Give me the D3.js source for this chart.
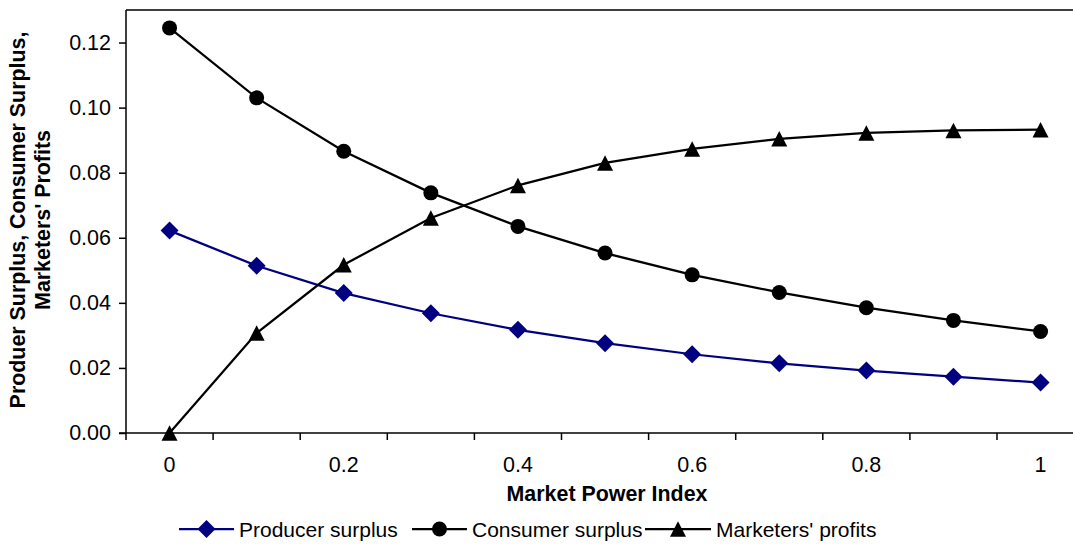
<!DOCTYPE html>
<html>
<head>
<meta charset="utf-8">
<script src="https://cdn.jsdelivr.net/npm/d3@7"></script>
<style>
  html, body { margin: 0; padding: 0; background: #fff; }
  svg { display: block; font-family: "Liberation Sans", Arial, sans-serif; }
</style>
</head>
<body>
<svg id="chart" width="1073" height="544"></svg>
<script>
// ---- data ----
const categories = [0, 0.1, 0.2, 0.3, 0.4, 0.5, 0.6, 0.7, 0.8, 0.9, 1];
const xTickLabels = ["0", "", "0.2", "", "0.4", "", "0.6", "", "0.8", "", "1"];
const producerSurplus = [0.0622, 0.0514, 0.0430, 0.0368, 0.0317, 0.0276, 0.0242, 0.0214, 0.0192, 0.0173, 0.0155];
const consumerSurplus = [0.1245, 0.1030, 0.0866, 0.0738, 0.0635, 0.0553, 0.0486, 0.0432, 0.0385, 0.0346, 0.0312];
const marketersProfits = [0.0000, 0.0307, 0.0517, 0.0661, 0.0761, 0.0830, 0.0873, 0.0904, 0.0922, 0.0930, 0.0932];
const yTicks = [0, 0.02, 0.04, 0.06, 0.08, 0.10, 0.12];
const seriesNames = ["Producer surplus", "Consumer surplus", "Marketers' profits"];
const xTitle = "Market Power Index";
const yTitleLines = ["Produer Surplus, Consumer Surplus,", "Marketers' Profits"];

(function () {
// ---- layout ----
const svg = d3.select("#chart");
const pLeft = 126, pTop = 10, pBottom = 433;
const band = 87.1;
const pRight = pLeft + band * categories.length;

const x = d3.scaleBand().domain(categories).range([pLeft, pRight]).paddingInner(0).paddingOuter(0);
const y = d3.scaleLinear().domain([0, 0.13]).range([pBottom, pTop]);
const cx = d => x(d) + x.bandwidth() / 2;

const series = [
  { name: seriesNames[0], values: producerSurplus, color: "#000080", marker: "diamond" },
  { name: seriesNames[1], values: consumerSurplus, color: "#000000", marker: "circle" },
  { name: seriesNames[2], values: marketersProfits, color: "#000000", marker: "triangle" }
];

// plot area frame (top and right)
svg.append("path")
  .attr("d", `M${pLeft},${pTop}H${pRight}V${pBottom}`)
  .attr("fill", "none").attr("stroke", "#000").attr("stroke-width", 1.5);

// y axis
const yAxis = d3.axisLeft(y).tickValues(yTicks).tickFormat(d3.format(".2f")).tickSize(7).tickPadding(8);
const gy = svg.append("g").attr("transform", `translate(${pLeft},0)`).call(yAxis);
gy.select(".domain").attr("stroke-width", 1.5).attr("d", `M0,${pTop}V${pBottom}`);
gy.selectAll(".tick line").attr("stroke-width", 1.5);
gy.selectAll(".tick text").attr("font-size", 21.5).attr("fill", "#000").attr("font-family", "Liberation Sans, Arial, sans-serif");

// x axis: ticks at category boundaries, labels at centres
const gx = svg.append("g");
gx.append("line").attr("x1", pLeft - 7).attr("x2", pRight).attr("y1", pBottom).attr("y2", pBottom)
  .attr("stroke", "#000").attr("stroke-width", 1.5);
const boundaries = categories.map(c => x(c)).concat([pRight]);
gx.selectAll("line.xt").data(boundaries).join("line").attr("class", "xt")
  .attr("x1", d => d).attr("x2", d => d).attr("y1", pBottom).attr("y2", pBottom + 7)
  .attr("stroke", "#000").attr("stroke-width", 1.5);
gx.selectAll("text.xl").data(categories).join("text").attr("class", "xl")
  .attr("x", d => cx(d)).attr("y", 472)
  .attr("text-anchor", "middle").attr("font-size", 21.5).attr("fill", "#000")
  .text((d, i) => xTickLabels[i]);

// axis titles
svg.append("text").attr("x", 607).attr("y", 501).attr("text-anchor", "middle")
  .attr("font-size", 21.4).attr("font-weight", "bold").text(xTitle);
const yt = svg.append("text").attr("transform", "translate(0,220) rotate(-90)")
  .attr("text-anchor", "middle").attr("font-size", 21.4).attr("font-weight", "bold");
yt.selectAll("tspan").data(yTitleLines).join("tspan")
  .attr("x", 0).attr("y", (d, i) => 25 + i * 25).text(d => d);

// markers
function drawMarker(g, type, px, py, color) {
  if (type === "circle") {
    g.append("circle").attr("cx", px).attr("cy", py).attr("r", 7.5).attr("fill", color);
  } else if (type === "diamond") {
    const s = 9;
    g.append("path").attr("d", `M${px},${py - s}L${px + s},${py}L${px},${py + s}L${px - s},${py}Z`).attr("fill", color);
  } else {
    const h = 15.5, w = 16;
    g.append("path").attr("d", `M${px},${py - h / 2}L${px + w / 2},${py + h / 2}L${px - w / 2},${py + h / 2}Z`).attr("fill", color);
  }
}

const line = d3.line().x((d, i) => cx(categories[i])).y(d => y(d));
series.forEach(s => {
  const g = svg.append("g");
  g.append("path").datum(s.values).attr("d", line).attr("fill", "none")
    .attr("stroke", s.color).attr("stroke-width", 2.25);
  s.values.forEach((v, i) => drawMarker(g, s.marker, cx(categories[i]), y(v), s.color));
});

// legend
const legendItems = [
  { lx: 179, tx: 239 },
  { lx: 412, tx: 472 },
  { lx: 645, tx: 716 }
];
const ly = 529;
series.forEach((s, i) => {
  const g = svg.append("g");
  const L = legendItems[i];
  const lineEnd = L.tx - 5;
  g.append("line").attr("x1", L.lx).attr("x2", lineEnd).attr("y1", ly).attr("y2", ly)
    .attr("stroke", s.color).attr("stroke-width", 2.25);
  drawMarker(g, s.marker, (L.lx + lineEnd) / 2, ly, s.color);
  g.append("text").attr("x", L.tx).attr("y", ly + 7.5).attr("font-size", 21).attr("fill", "#000").text(s.name);
});
})();
</script>
</body>
</html>
